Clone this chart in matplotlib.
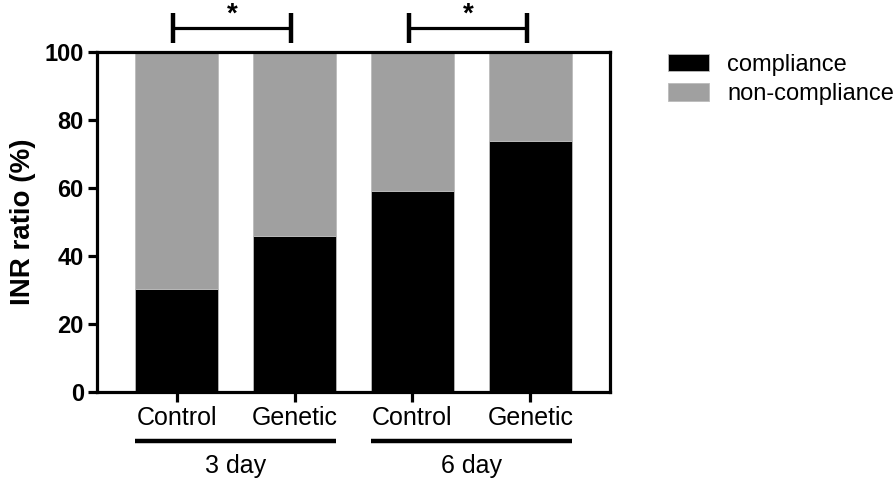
import matplotlib.pyplot as plt
import numpy as np

plt.rcParams["font.family"] = ["Liberation Sans", "DejaVu Sans"]

# data
categories = ["Control", "Genetic", "Control", "Genetic"]
groups = ["3 day", "6 day"]
compliance = [30.4, 45.9, 59.0, 73.9]
non_compliance = [100 - v for v in compliance]
significance = [(0, 1, "*"), (2, 3, "*")]

BLACK = "#000000"
GREY = "#a0a0a0"
FS = 18

fig = plt.figure(figsize=(8.96, 4.82), dpi=100)
W, H = 896, 482
ax = fig.add_axes([97 / W, (H - 392) / H, (610 - 97) / W, (392 - 52) / H])

x = np.arange(len(categories))
width = 0.70
b1 = ax.bar(x, compliance, width, color=BLACK, edgecolor="#bbbbbb",
            linewidth=0.6, label="compliance", zorder=2)
b2 = ax.bar(x, non_compliance, width, bottom=compliance, color=GREY,
            edgecolor="#bbbbbb", linewidth=0.6, label="non-compliance", zorder=2)

ax.set_xlim(-0.674, 3.674)
ax.set_ylim(0, 100)
ax.set_yticks([0, 20, 40, 60, 80, 100])
ax.set_yticklabels([str(v) for v in [0, 20, 40, 60, 80, 100]],
                   fontsize=17, fontweight="bold")
ax.set_xticks(x)
ax.set_xticklabels([])
for s in ax.spines.values():
    s.set_linewidth(2.3)
    s.set_zorder(3)
ax.tick_params(axis="y", length=6.5, width=2.3, pad=3)
ax.tick_params(axis="x", length=7, width=2.3)
ax.set_ylabel("INR ratio (%)", fontsize=20, fontweight="bold", labelpad=6)

# category labels and group lines
for xi, lab in zip(x, categories):
    ax.text(xi, -7.6, lab, ha="center", va="center", fontsize=FS,
            clip_on=False)
for gi, g in enumerate(groups):
    x0 = 2 * gi - width / 2
    x1 = 2 * gi + 1 + width / 2
    ax.plot([x0, x1], [-14.4, -14.4], color=BLACK, lw=3.2,
            clip_on=False, solid_capstyle="butt")
    ax.text((x0 + x1) / 2, -21.8, g, ha="center", va="center",
            fontsize=FS, clip_on=False)

# significance brackets
for i, j, mark in significance:
    xa, xb = x[i] - 0.03, x[j] - 0.03
    ax.plot([xa, xb], [107.1, 107.1], color=BLACK, lw=2.3, clip_on=False,
            solid_capstyle="butt")
    ax.plot([xa, xa], [102.6, 111.6], color=BLACK, lw=3.2, clip_on=False,
            solid_capstyle="butt")
    ax.plot([xb, xb], [102.6, 111.6], color=BLACK, lw=3.2, clip_on=False,
            solid_capstyle="butt")
    ax.text((xa + xb) / 2, 107.3, mark, ha="center", va="bottom",
            fontsize=20, fontweight="bold", clip_on=False)

fig.legend(handles=[b1, b2], labels=["compliance", "non-compliance"],
           loc="upper left", bbox_to_anchor=(668 / W, (H - 54) / H),
           frameon=False, fontsize=17, handlelength=1.74, handleheight=0.76,
           handletextpad=0.76, labelspacing=0.3, borderpad=0,
           borderaxespad=0)

fig.savefig("out.png", dpi=100)
